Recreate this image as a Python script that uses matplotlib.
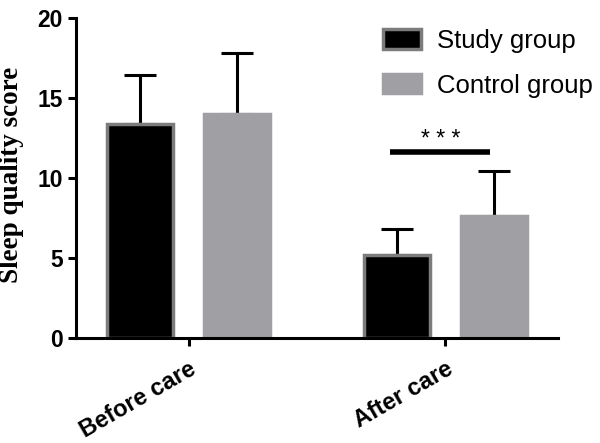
import numpy as np
import matplotlib
matplotlib.use("Agg")
import matplotlib.pyplot as plt

# data
groups = ['Before care', 'After care']
series = ['Study group', 'Control group']
study_mean = [13.4, 5.2]
study_err = [3.05, 1.6]
control_mean = [14.0, 7.6]
control_err = [3.8, 2.85]
sig_label = '* * *'
sig_y = 11.6

plt.rcParams['font.family'] = ['Liberation Sans', 'DejaVu Sans']

fig = plt.figure(figsize=(6, 4.43), dpi=100)
ax = fig.add_axes([0.1267, 0.237, 0.8033, 0.722])

x = np.arange(len(groups))
w = 0.255
off = 0.188
edge_grey = '#7c7c7c'
ctrl_grey = '#a0a0a4'

b1 = ax.bar(x - off, study_mean, w, color='black', edgecolor=edge_grey, linewidth=2.5,
            label=series[0], zorder=2)
b2 = ax.bar(x + off, control_mean, w, color=ctrl_grey, edgecolor=ctrl_grey, linewidth=2.5,
            label=series[1], zorder=2)

# upper error bars only
ax.errorbar(x - off, study_mean, yerr=[np.zeros(2), study_err], fmt='none', ecolor='black',
            elinewidth=2.2, capsize=11.5, capthick=2.2, zorder=1)
ax.errorbar(x + off, control_mean, yerr=[np.zeros(2), control_err], fmt='none', ecolor='black',
            elinewidth=2.2, capsize=11.5, capthick=2.2, zorder=1)

# significance line for after care
ax.plot([x[1] - 0.216, x[1] + 0.173], [sig_y, sig_y], color='black', lw=4, solid_capstyle='butt',
        clip_on=False)
ax.text(x[1] - 0.02, sig_y + 0.8, sig_label, ha='center', va='center', fontsize=16.5)

ax.set_xlim(-0.438, 1.438)
ax.set_ylim(0, 20)
ax.set_yticks([0, 5, 10, 15, 20])
ax.set_xticks(x)
ax.set_xticklabels(groups, rotation=30, ha='right', va='top', rotation_mode='anchor',
                   fontsize=17, fontweight='bold')
for lab in ax.get_yticklabels():
    lab.set_fontsize(16.5)
    lab.set_fontweight('bold')

for s in ['top', 'right']:
    ax.spines[s].set_visible(False)
for s in ['left', 'bottom']:
    ax.spines[s].set_linewidth(2.2)
ax.tick_params(axis='both', direction='out', length=5.8, width=2.2, pad=3.6)
ax.tick_params(axis='x', pad=8)

ax.set_ylabel('Sleep quality score', family='Liberation Serif', fontweight='bold', fontsize=19.5)
ax.yaxis.set_label_coords(-0.108, 0.51)

fig.legend(handles=[b1, b2], labels=series, loc='upper left', bbox_to_anchor=(383/600, 1 - 29/443),
           frameon=False, fontsize=18.5, handlelength=1.46, handleheight=0.77, handletextpad=0.65,
           labelspacing=0.8, borderpad=0, borderaxespad=0)

fig.savefig('out.png', dpi=100)
